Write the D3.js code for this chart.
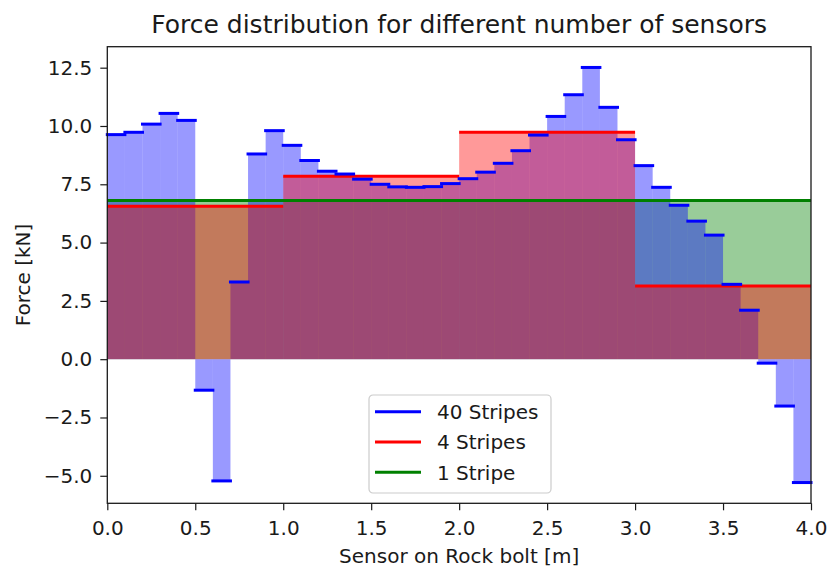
<!DOCTYPE html>
<html>
<head>
<meta charset="utf-8">
<script src="https://cdn.jsdelivr.net/npm/d3@7"></script>
<style>
  body { margin: 0; background: #fff; }
  text { font-family: "DejaVu Sans", sans-serif; fill: #1a1a1a; }
</style>
</head>
<body>
<svg id="chart" width="830" height="568"></svg>
<script>
// force per stripe (kN)
const stripes40 = [9.63, 9.73, 10.08, 10.54, 10.24, -1.33, -5.22, 3.31, 8.80, 9.80,
                   9.17, 8.52, 8.06, 7.94, 7.72, 7.50, 7.39, 7.37, 7.40, 7.53,
                   7.74, 8.02, 8.40, 8.94, 9.61, 10.41, 11.34, 12.51, 10.80, 9.41,
                   8.30, 7.37, 6.60, 5.92, 5.32, 3.21, 2.10, -0.17, -2.01, -5.29];
const stripes4 = [6.56, 7.84, 9.73, 3.14];
const stripes1 = [6.80];
const boltLength = 4.0;
const xTicks = [0, 0.5, 1, 1.5, 2, 2.5, 3, 3.5, 4];
const yTicks = [-5, -2.5, 0, 2.5, 5, 7.5, 10, 12.5];
const seriesNames = ["40 Stripes", "4 Stripes", "1 Stripe"];
const seriesColors = ["#0000ff", "#ff0000", "#008000"];

const svg = d3.select("#chart");
const plotL = 107.3, plotR = 811, plotT = 46.7, plotB = 503.3;

const x = d3.scaleLinear().domain([0, boltLength]).range([plotL, plotR]);
const y = d3.scaleLinear().domain([-6.18, 13.40]).range([plotB, plotT]);

// turn a list of stripe values into {x0, x1, v} steps
function steps(vals) {
    const w = boltLength / vals.length;
    return vals.map((v, i) => ({x0: i * w, x1: (i + 1) * w, v: v}));
}

const layers = [
    {data: steps(stripes1), color: seriesColors[2]},
    {data: steps(stripes40), color: seriesColors[0]},
    {data: steps(stripes4), color: seriesColors[1]}
];

/* filled areas: green, then blue, then red on top */
layers.forEach(l => {
    svg.append("g").selectAll("rect").data(l.data).enter().append("rect")
        .attr("x", d => x(d.x0))
        .attr("width", d => x(d.x1) - x(d.x0))
        .attr("y", d => y(Math.max(0, d.v)))
        .attr("height", d => Math.abs(y(d.v) - y(0)))
        .attr("fill", l.color)
        .attr("fill-opacity", 0.4);
});

/* level lines */
const lineOrder = [
    {data: steps(stripes4), color: seriesColors[1], cap: "butt"},
    {data: steps(stripes1), color: seriesColors[2], cap: "butt"},
    {data: steps(stripes40), color: seriesColors[0], cap: "square"}
];
lineOrder.forEach(l => {
    svg.append("g").selectAll("line").data(l.data).enter().append("line")
        .attr("x1", d => x(d.x0))
        .attr("x2", d => x(d.x1))
        .attr("y1", d => y(d.v))
        .attr("y2", d => y(d.v))
        .attr("stroke", l.color)
        .attr("stroke-width", 3)
        .attr("stroke-linecap", l.cap);
});

/* axes */
const xAxis = d3.axisBottom(x).tickValues(xTicks).tickFormat(d3.format(".1f"))
    .tickSize(7).tickPadding(11).tickSizeOuter(0);
const yAxis = d3.axisLeft(y).tickValues(yTicks).tickFormat(d3.format(".1f"))
    .tickSize(7).tickPadding(8).tickSizeOuter(0);

const gx = svg.append("g").attr("transform", "translate(0," + plotB + ")").call(xAxis);
const gy = svg.append("g").attr("transform", "translate(" + plotL + ",0)").call(yAxis);
[gx, gy].forEach(g => {
    g.select(".domain").remove();
    g.selectAll("line").attr("stroke", "#1a1a1a").attr("stroke-width", 1.2);
    g.selectAll("text").style("font-size", "20px").attr("fill", "#1a1a1a");
});

// frame
svg.append("rect")
    .attr("x", plotL).attr("y", plotT)
    .attr("width", plotR - plotL).attr("height", plotB - plotT)
    .attr("fill", "none").attr("stroke", "#1a1a1a").attr("stroke-width", 1.3);

/* labels */
svg.append("text")
    .attr("x", (plotL + plotR) / 2).attr("y", 33)
    .attr("text-anchor", "middle")
    .style("font-size", "25px")
    .text("Force distribution for different number of sensors");

svg.append("text")
    .attr("x", (plotL + plotR) / 2).attr("y", 563)
    .attr("text-anchor", "middle")
    .style("font-size", "20px")
    .text("Sensor on Rock bolt [m]");

svg.append("text")
    .attr("transform", "translate(30," + (plotT + plotB) / 2 + ") rotate(-90)")
    .attr("text-anchor", "middle")
    .style("font-size", "20px")
    .text("Force [kN]");

/* legend */
const legend = svg.append("g").attr("transform", "translate(369,395)");
legend.append("rect")
    .attr("width", 182).attr("height", 98)
    .attr("rx", 4)
    .attr("fill", "#fff").attr("fill-opacity", 0.8)
    .attr("stroke", "#cccccc").attr("stroke-width", 1.2);

const item = legend.selectAll(".item").data(seriesNames).enter().append("g")
    .attr("class", "item")
    .attr("transform", (d, i) => "translate(0," + (16.7 + i * 30.3) + ")");
item.append("line")
    .attr("x1", 6).attr("x2", 52)
    .attr("stroke", (d, i) => seriesColors[i])
    .attr("stroke-width", 3);
item.append("text")
    .attr("x", 68).attr("dy", "0.36em")
    .style("font-size", "20px")
    .text(d => d);
</script>
</body>
</html>
